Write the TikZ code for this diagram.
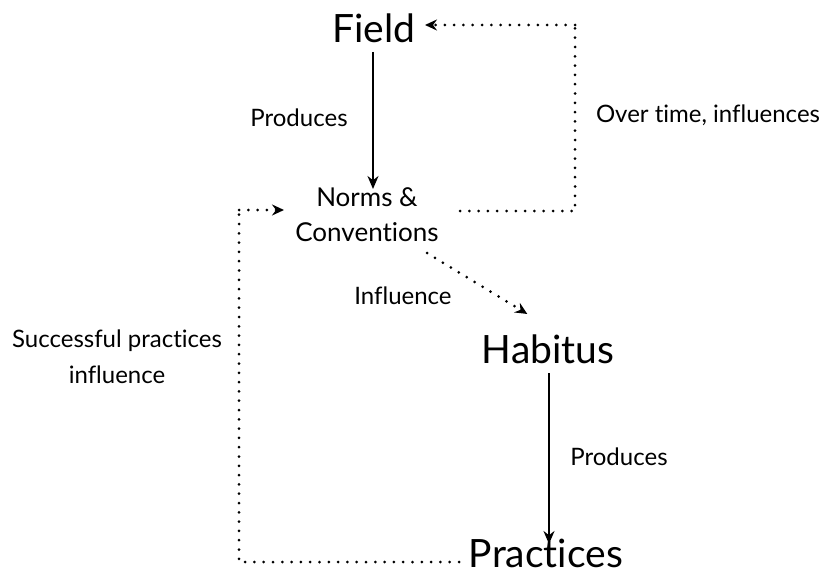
\documentclass[tikz,border=0pt]{standalone}
\usepackage{fontspec}
\setmainfont{Lato}[Ligatures=CommonOff]
\usetikzlibrary{arrows.meta}

\begin{document}
\begin{tikzpicture}[x=1pt,y=-1pt,
        big/.style={font=\fontsize{39}{40}\selectfont, inner sep=0pt, anchor=base},
        mid/.style={font=\fontsize{26}{35}\selectfont, inner sep=0pt, align=center},
        lbl/.style={font=\fontsize{24}{36}\selectfont, inner sep=0pt, anchor=base},
        solid arr/.style={line width=1.9pt, -{Stealth[length=13pt,width=11pt]}},
        dot line/.style={line width=3pt, line cap=round, dash pattern=on 0pt off 9.3pt},
        dot arr/.style={dot line, -{Stealth[length=12pt,width=11pt,inset=4pt,line cap=butt,sep=2pt]}}]
        \useasboundingbox (0,0) rectangle (824,575);
        % Nodes
        \node[big]  (field) at (374,43)  {Field};
        \node[mid]  (norms) at (367,215) {Norms \&\\Conventions};
        \node[big]  (hab)   at (548,363) {Habitus};
        \node[big]  (prac)  at (546,567) {Practices};
        % Labels
        \node[lbl]  (p1) at (299,127) {Produces};
        \node[lbl]  (ot) at (708,123) {Over time, influences};
        \node[lbl]  (in) at (403,304) {Influence};
        \node[lbl]  (sp1) at (117,347) {Successful practices};
        \node[lbl]  (sp2) at (117,383) {influence};
        \node[lbl]  (p2) at (619,465) {Produces};
        % Corners of the dotted loops
        \coordinate (a0) at (459,562);
        \coordinate (a1) at (239,562);
        \coordinate (a2) at (239,210);
        \coordinate (a3) at (286,210);
        \coordinate (b1) at (460,211);
        \coordinate (b2) at (575,211);
        \coordinate (b3) at (575,25);
        \coordinate (b4) at (423,25);
        \coordinate (c1) at (427,253);
        \coordinate (c2) at (529,315);
        
        \draw[solid arr] (373,52) -- (373,189);
        \draw[solid arr] (549,373) -- (549,544);
        \draw[dot arr] (c1) -- (c2);
        \draw[dot line] (a0) -- (a1) -- (a2);
        \draw[dot arr] (a2) -- (a3);
        \draw[dot line] (b1) -- (b2) -- (b3);
        \draw[dot arr] (b3) -- (b4);
    \end{tikzpicture}
\end{document}
